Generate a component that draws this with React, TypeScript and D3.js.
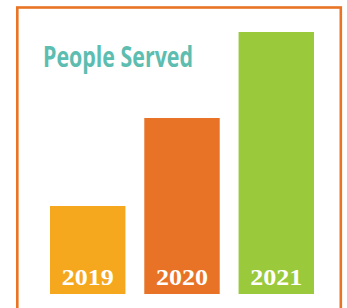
import { useEffect, useRef } from 'react'
import * as d3 from 'd3'

const years = ['2019', '2020', '2021']
const peopleServed = [880, 1760, 2620]
const barColors = ['#f5a81e', '#e87326', '#9aca3c']

const W = 347
const H = 308

const App = () => {
  const svgRef = useRef<SVGSVGElement>(null)

  useEffect(() => {
    const svg = d3.select(svgRef.current)
    svg.selectAll('*').remove()

    const x = d3.scaleBand<string>()
      .domain(years)
      .range([50, 314])
      .paddingInner(0.2)
      .paddingOuter(0)

    const y = d3.scaleLinear()
      .domain([0, d3.max(peopleServed) as number])
      .range([294, 32])

    // orange frame, bottom runs off the page
    svg.append('rect')
      .attr('x', 17.3)
      .attr('y', 7.5)
      .attr('width', 323.5)
      .attr('height', 400)
      .attr('fill', 'none')
      .attr('stroke', '#e87424')
      .attr('stroke-width', 2.6)

    svg.append('text')
      .attr('x', 43)
      .attr('y', 67)
      .attr('textLength', 150)
      .attr('lengthAdjust', 'spacingAndGlyphs')
      .style('font-family', '"Open Sans", sans-serif')
      .style('font-weight', 700)
      .style('font-size', '28px')
      .style('fill', '#5dbdb0')
      .text('People Served')

    svg.selectAll('rect.bar')
      .data(peopleServed)
      .join('rect')
      .attr('class', 'bar')
      .attr('x', (_, i) => x(years[i]) as number)
      .attr('y', d => y(d))
      .attr('width', x.bandwidth())
      .attr('height', d => y(0) - y(d))
      .attr('fill', (_, i) => barColors[i])

    svg.selectAll('text.year')
      .data(years)
      .join('text')
      .attr('class', 'year')
      .attr('x', d => (x(d) as number) + x.bandwidth() / 2)
      .attr('y', 284.5)
      .attr('text-anchor', 'middle')
      .attr('textLength', 52)
      .attr('lengthAdjust', 'spacingAndGlyphs')
      .style('font-family', '"Liberation Serif", serif')
      .style('font-weight', 700)
      .style('font-size', '23.5px')
      .style('fill', '#ffffff')
      .text(d => d)
  }, [])

  return (
    <svg ref={svgRef} width={W} height={H} style={{ position: 'absolute', left: 0, top: 0, background: '#fff' }}></svg>
  )
}

export default App
